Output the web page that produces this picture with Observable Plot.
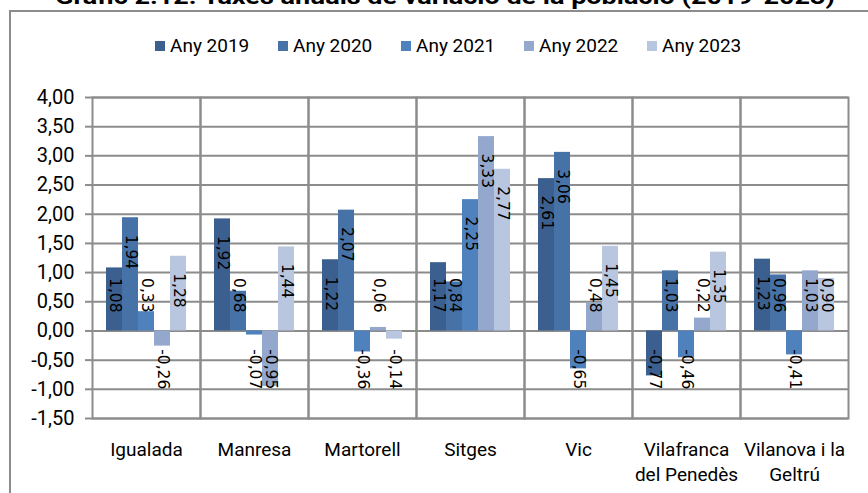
<!DOCTYPE html>
<html>
<head>
<meta charset="utf-8">
<script src="https://cdn.jsdelivr.net/npm/d3@7"></script>
<script src="https://cdn.jsdelivr.net/npm/@observablehq/plot@0.6"></script>
<style>
  html, body { margin: 0; padding: 0; background: #fff; overflow: hidden; }
  #wrap { position: relative; width: 868px; height: 493px; overflow: hidden; font-family: Roboto, "Noto Sans", sans-serif; }
  #border { position: absolute; left: 9px; top: 10px; width: 900px; height: 600px; border: 2px solid #8c8c8c; box-sizing: border-box; }
  #title { position: absolute; left: 0; top: 0; }
  #legend { position: absolute; left: 155px; top: 34px; display: flex; gap: 0; font-size: 19px; color: #000; }
  .item { display: flex; align-items: center; width: 123px; white-space: nowrap; }
  .sw { width: 10px; height: 10px; margin-right: 5px; flex: none; }
  #chart { position: absolute; left: 0; top: 0; }
</style>
</head>
<body>
<div id="wrap">
  <div id="border"></div>
  <svg id="title" width="868" height="20"></svg>
  <div id="legend"></div>
  <div id="chart"></div>
</div>
<script>
const titleText = "Gràfic 2.12. Taxes anuals de variació de la població (2019-2023)";
const categories = ["Igualada", "Manresa", "Martorell", "Sitges", "Vic", "Vilafranca del Penedès", "Vilanova i la Geltrú"];
const tickLabels = ["Igualada", "Manresa", "Martorell", "Sitges", "Vic", "Vilafranca\ndel Penedès", "Vilanova i la\nGeltrú"];
const years = ["Any 2019", "Any 2020", "Any 2021", "Any 2022", "Any 2023"];
const colors = ["#3b5f8e", "#4672a8", "#4f81bd", "#94a8ce", "#b9c6e0"];
const v2019 = [1.08, 1.92, 1.22, 1.17, 2.61, -0.77, 1.23];
const v2020 = [1.94, 0.68, 2.07, 0.84, 3.06, 1.03, 0.96];
const v2021 = [0.33, -0.07, -0.36, 2.25, -0.65, -0.46, -0.41];
const v2022 = [-0.26, -0.95, 0.06, 3.33, 0.48, 0.22, 1.03];
const v2023 = [1.28, 1.44, -0.14, 2.77, 1.45, 1.35, 0.90];
const yTicks = [-1.5, -1, -0.5, 0, 0.5, 1, 1.5, 2, 2.5, 3, 3.5, 4];

const series = [v2019, v2020, v2021, v2022, v2023];
const data = [];
categories.forEach((c, i) => series.forEach((s, j) => data.push({cat: c, year: years[j], value: s[i]})));
const pos = data.filter(d => d.value >= 0);
const neg = data.filter(d => d.value < 0);

const fmt = v => (v < 0 ? "-" : "") + Math.abs(v).toFixed(2).replace(".", ",");
const labelMap = new Map(categories.map((c, i) => [c, tickLabels[i]]));

// title (partly cropped at the top, as in the reference)
const tsvg = d3.select("#title");
tsvg.append("text").attr("x", 445).attr("y", 4).attr("text-anchor", "middle")
  .attr("font-family", "Roboto, sans-serif").attr("font-weight", "bold").attr("font-size", 22)
  .attr("textLength", 780).attr("lengthAdjust", "spacingAndGlyphs").text(titleText);

// legend
const leg = d3.select("#legend");
years.forEach((y, i) => {
  const it = leg.append("div").attr("class", "item");
  it.append("div").attr("class", "sw").style("background", colors[i]);
  it.append("span").text(y);
});

const grid = "#8c8c8c";
const labelStyle = {fontFamily: "DejaVu Sans", fontSize: 15.5, fill: "#000", rotate: 90};
const chart = Plot.plot({
  width: 868,
  height: 493,
  marginLeft: 90,
  marginRight: 19,
  marginTop: 97,
  marginBottom: 75,
  style: {fontFamily: "Roboto, sans-serif", background: "transparent"},
  fx: {domain: categories, padding: 0, label: null, axis: null},
  x: {domain: years, paddingInner: 0, paddingOuter: 0.765, axis: null},
  y: {domain: [-1.5, 4], label: null},
  color: {domain: years, range: colors},
  marks: [
    Plot.gridY(yTicks, {stroke: grid, strokeOpacity: 1, strokeWidth: 2}),
    Plot.frame({stroke: grid, strokeWidth: 2}),
    Plot.axisY(yTicks, {tickSize: 7, stroke: grid, strokeWidth: 2, tickPadding: 11, tickFormat: fmt, fontSize: 20, fill: "#000", label: null}),
    Plot.axisFx({anchor: "bottom", tickSize: 0, tickPadding: 20, fontSize: 19, fill: "#000", lineHeight: 1.3, label: null, tickFormat: d => labelMap.get(d)}),
    Plot.barY(data, {fx: "cat", x: "year", y: "value", fill: "year"}),
    Plot.text(pos, {
      fx: "cat", x: "year",
      y: d => Math.max(d.value - 0.29, 0.906),
      text: d => fmt(d.value),
      textAnchor: "start",
      ...labelStyle
    }),
    Plot.text(neg, {
      fx: "cat", x: "year",
      y: () => -1.0,
      text: d => fmt(d.value),
      textAnchor: "end",
      ...labelStyle
    })
  ]
});
document.getElementById("chart").appendChild(chart);
</script>
</body>
</html>
